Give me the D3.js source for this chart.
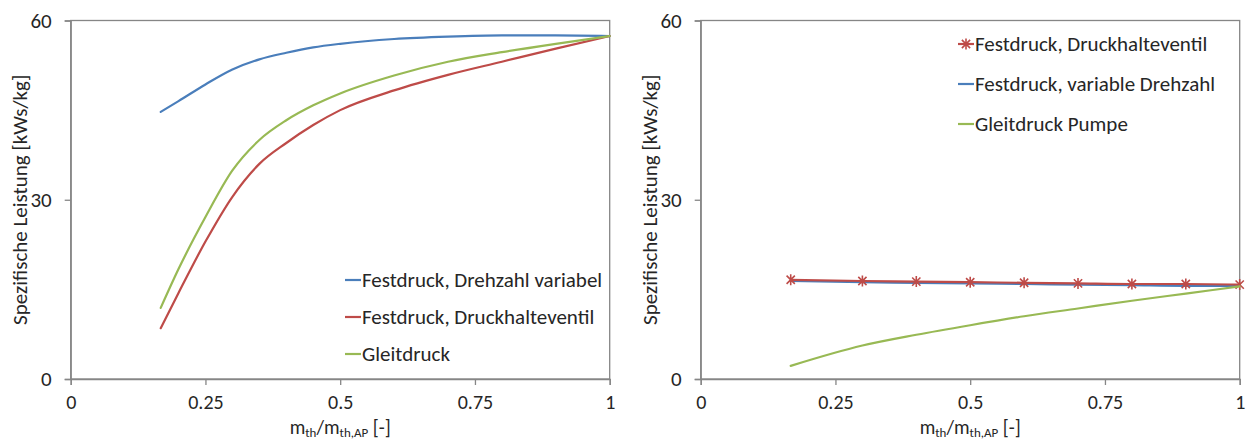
<!DOCTYPE html>
<html><head><meta charset="utf-8">
<script src="https://cdn.jsdelivr.net/npm/d3@7"></script>
<style>
body{margin:0;background:#fff;}
text{font-family:Carlito,Lato,"Open Sans",sans-serif;fill:#262626;}
</style></head><body>
<svg id="c" width="1252" height="442"></svg>
<script>
// ---- data ----
const leftX = [0.167, 0.2, 0.25, 0.3, 0.35, 0.4, 0.45, 0.5, 0.6, 0.7, 0.8, 0.9, 1.0];
const leftBlue  = [44.7, 46.5, 49.3, 51.8, 53.5, 54.6, 55.5, 56.1, 56.9, 57.3, 57.5, 57.5, 57.4];
const leftRed   = [8.5, 14.4, 23.0, 30.5, 36.0, 39.5, 42.5, 45.0, 48.3, 50.9, 53.1, 55.3, 57.4];
const leftGreen = [11.9, 18.4, 27.1, 34.9, 40.0, 43.3, 45.8, 47.8, 50.8, 53.1, 54.7, 56.1, 57.4];
const leftNames = ["Festdruck, Drehzahl variabel", "Festdruck, Druckhalteventil", "Gleitdruck"];

const rightX = [0.167, 0.3, 0.4, 0.5, 0.6, 0.7, 0.8, 0.9, 1.0];
const rightRed   = [16.6, 16.4, 16.3, 16.2, 16.1, 16.0, 15.9, 15.9, 15.8];
const rightBlue  = [16.4, 16.2, 16.1, 16.0, 15.9, 15.8, 15.7, 15.6, 15.6];
const rightGreen = [2.2, 5.6, 7.4, 9.0, 10.5, 11.8, 13.1, 14.3, 15.5];
const rightNames = ["Festdruck, Druckhalteventil", "Festdruck, variable Drehzahl", "Gleitdruck Pumpe"];

const xTicks = [0, 0.25, 0.5, 0.75, 1];
const xTickLabels = ["0", "0.25", "0.5", "0.75", "1"];
const yTicks = [0, 30, 60];
const yLabel = "Spezifische Leistung [kWs/kg]";

const BLUE = "#4a7ebb", RED = "#be4b48", GREEN = "#98b954", AXIS = "#868686";
const FS = 21;

const svg = d3.select("#c");
svg.append("rect").attr("width",1252).attr("height",442).attr("fill","#fff");

function panel(x0, x1, legendCfg, series) {
  const x = d3.scaleLinear().domain([0,1]).range([x0, x1]);
  const y = d3.scaleLinear().domain([0,60]).range([379, 20.5]);
  const g = svg.append("g");
  g.append("rect").attr("x", x0).attr("y", y(60)).attr("width", x1-x0).attr("height", y(0)-y(60))
    .attr("fill","none").attr("stroke", AXIS).attr("stroke-width",1.3);
  const ya = g.append("g").attr("transform",`translate(${x0},0)`)
    .call(d3.axisLeft(y).tickValues(yTicks).tickSize(6).tickPadding(13).tickFormat(d3.format("d")));
  ya.select(".domain").attr("stroke", AXIS).attr("stroke-width",1.3);
  ya.selectAll(".tick line").attr("stroke", AXIS).attr("stroke-width",1.3);
  ya.selectAll("text").attr("font-size",FS).attr("fill","#262626").style("font-family","Carlito,Lato,sans-serif");
  const xa = g.append("g").attr("transform",`translate(0,${y(0)})`)
    .call(d3.axisBottom(x).tickValues(xTicks).tickSize(6).tickPadding(10).tickFormat((d,i)=>xTickLabels[i]));
  xa.select(".domain").attr("stroke", AXIS).attr("stroke-width",1.3);
  xa.selectAll(".tick line").attr("stroke", AXIS).attr("stroke-width",1.3);
  xa.selectAll("text").attr("font-size",20).attr("fill","#262626").style("font-family","Carlito,Lato,sans-serif");
  g.append("text").attr("transform",`translate(${x0-51},${(y(0)+y(60))/2}) rotate(-90)`)
    .attr("text-anchor","middle").attr("dominant-baseline","central").attr("font-size",FS).text(yLabel);
  const xl = g.append("text").attr("x",(x0+x1)/2).attr("y",433.5).attr("text-anchor","middle").attr("font-size",19.5);
  xl.append("tspan").text("m");
  xl.append("tspan").attr("font-size",13).attr("dy",3).text("th");
  xl.append("tspan").attr("dy",-3).text("/m");
  xl.append("tspan").attr("font-size",13).attr("dy",3).text("th,AP");
  xl.append("tspan").attr("dy",-3).text(" [-]");
  const line = d3.line().x(d=>x(d[0])).y(d=>y(d[1])).curve(d3.curveMonotoneX);
  series.forEach(s=>{
    const pts = s.xs.map((v,i)=>[v, s.ys[i]]);
    g.append("path").attr("d", line(pts)).attr("fill","none").attr("stroke", s.color)
      .attr("stroke-width",2.2).attr("stroke-linecap","round");
    if (s.marker) {
      g.selectAll(null).data(pts).enter().append("path")
        .attr("transform", d=>`translate(${x(d[0])},${y(d[1])})`)
        .attr("d", starPath(5.5)).attr("stroke", s.color).attr("stroke-width",1.6).attr("fill","none");
    }
  });
  legendCfg.order.forEach((si,i)=>{
    const s = series[si];
    const cy = legendCfg.y0 + i*legendCfg.dy;
    g.append("line").attr("x1",legendCfg.x).attr("x2",legendCfg.x+16).attr("y1",cy).attr("y2",cy)
      .attr("stroke", s.color).attr("stroke-width",2.2);
    if (s.marker) g.append("path").attr("transform",`translate(${legendCfg.x+8},${cy})`)
      .attr("d", starPath(5.5)).attr("stroke", s.color).attr("stroke-width",1.6).attr("fill","none");
    g.append("text").attr("x",legendCfg.x+17).attr("y",cy).attr("dominant-baseline","central")
      .attr("font-size",FS).text(s.name);
  });
}
function starPath(r){
  const a = r*0.75;
  return `M${-a},${-a}L${a},${a}M${-a},${a}L${a},${-a}M0,${-r}L0,${r}`;
}

panel(70.7, 609.7, {x:345, y0:280, dy:37, order:[0,1,2]}, [
  {name:leftNames[0], xs:leftX, ys:leftBlue, color:BLUE},
  {name:leftNames[1], xs:leftX, ys:leftRed, color:RED},
  {name:leftNames[2], xs:leftX, ys:leftGreen, color:GREEN}
]);
panel(700.7, 1239.7, {x:958, y0:44, dy:40, order:[1,0,2]}, [
  {name:rightNames[1], xs:rightX, ys:rightBlue, color:BLUE},
  {name:rightNames[0], xs:rightX, ys:rightRed, color:RED, marker:true},
  {name:rightNames[2], xs:rightX, ys:rightGreen, color:GREEN}
]);
</script></body></html>
